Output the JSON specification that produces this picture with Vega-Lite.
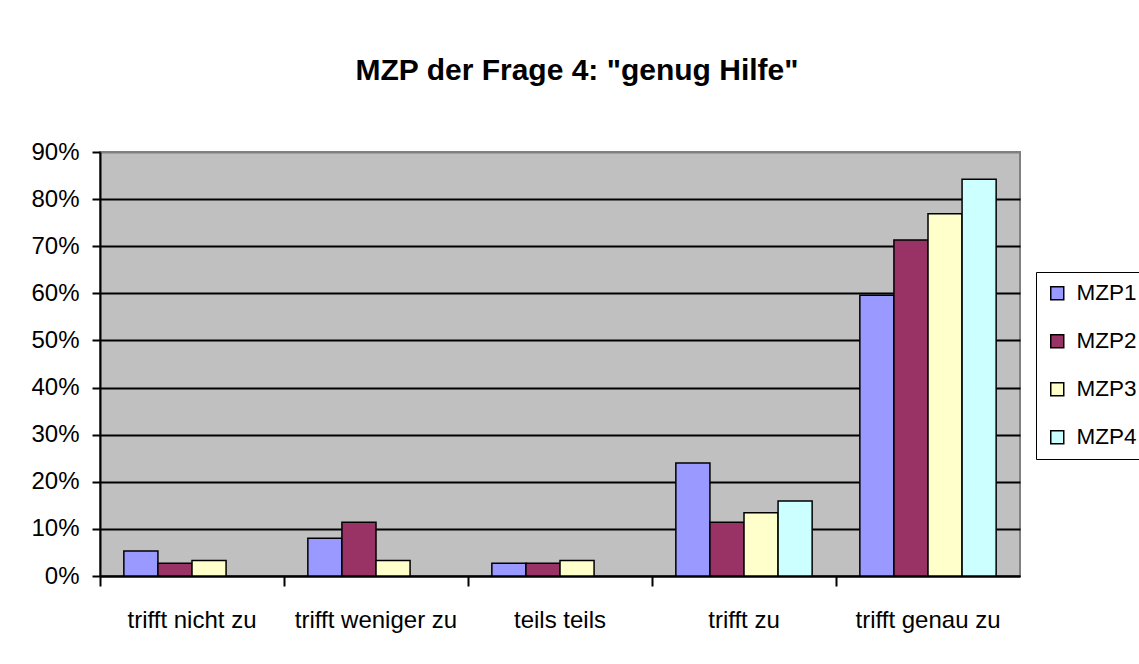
{
  "$schema": "https://vega.github.io/schema/vega-lite/v6.json",
  "autosize": "none",
  "width": 920,
  "height": 424,
  "padding": {"left": 100, "top": 152, "right": 119, "bottom": 88},
  "background": "white",
  "title": {
    "text": "MZP der Frage 4: \"genug Hilfe\"",
    "font": "Liberation Sans",
    "fontSize": 30,
    "fontWeight": "bold",
    "color": "black",
    "anchor": "middle",
    "dx": 17,
    "offset": 54
  },
  "data": {
    "values": [
      {"kategorie": "trifft nicht zu", "mzp": "MZP1", "wert": 0.053},
      {"kategorie": "trifft nicht zu", "mzp": "MZP2", "wert": 0.027},
      {"kategorie": "trifft nicht zu", "mzp": "MZP3", "wert": 0.033},
      {"kategorie": "trifft weniger zu", "mzp": "MZP1", "wert": 0.08},
      {"kategorie": "trifft weniger zu", "mzp": "MZP2", "wert": 0.114},
      {"kategorie": "trifft weniger zu", "mzp": "MZP3", "wert": 0.033},
      {"kategorie": "teils teils", "mzp": "MZP1", "wert": 0.027},
      {"kategorie": "teils teils", "mzp": "MZP2", "wert": 0.027},
      {"kategorie": "teils teils", "mzp": "MZP3", "wert": 0.033},
      {"kategorie": "trifft zu", "mzp": "MZP1", "wert": 0.24},
      {"kategorie": "trifft zu", "mzp": "MZP2", "wert": 0.114},
      {"kategorie": "trifft zu", "mzp": "MZP3", "wert": 0.134},
      {"kategorie": "trifft zu", "mzp": "MZP4", "wert": 0.159},
      {"kategorie": "trifft genau zu", "mzp": "MZP1", "wert": 0.596},
      {"kategorie": "trifft genau zu", "mzp": "MZP2", "wert": 0.713},
      {"kategorie": "trifft genau zu", "mzp": "MZP3", "wert": 0.769},
      {"kategorie": "trifft genau zu", "mzp": "MZP4", "wert": 0.842}
    ]
  },
  "mark": {"type": "bar", "stroke": "black", "strokeWidth": 1.5, "opacity": 1},
  "encoding": {
    "x": {
      "field": "kategorie",
      "type": "nominal",
      "sort": ["trifft nicht zu", "trifft weniger zu", "teils teils", "trifft zu", "trifft genau zu"],
      "scale": {"paddingInner": 0, "paddingOuter": 0},
      "axis": {
        "title": null,
        "labelAngle": 0,
        "bandPosition": 0,
        "labelFont": "Liberation Sans",
        "labelFontSize": 24,
        "labelColor": "black",
        "labelPadding": 22,
        "tickSize": 10,
        "tickColor": "black",
        "tickWidth": 2,
        "domainColor": "black",
        "domainWidth": 2,
        "grid": false
      }
    },
    "xOffset": {
      "field": "mzp",
      "type": "nominal",
      "scale": {"domain": ["MZP1", "MZP2", "MZP3", "MZP4"], "paddingInner": 0, "paddingOuter": 0.7}
    },
    "y": {
      "field": "wert",
      "type": "quantitative",
      "scale": {"domain": [0, 0.9], "nice": false},
      "axis": {
        "title": null,
        "format": ".0%",
        "values": [0, 0.1, 0.2, 0.3, 0.4, 0.5, 0.6, 0.7, 0.8, 0.9],
        "labelFont": "Liberation Sans",
        "labelFontSize": 24,
        "labelColor": "black",
        "labelPadding": 13,
        "tickSize": 8,
        "tickColor": "black",
        "tickWidth": 2,
        "domainColor": "black",
        "domainWidth": 2,
        "grid": true,
        "gridColor": {"condition": {"test": "datum.value >= 0.9", "value": "#808080"}, "value": "black"},
        "gridWidth": 2,
        "gridOpacity": 1
      }
    },
    "color": {
      "field": "mzp",
      "type": "nominal",
      "scale": {"domain": ["MZP1", "MZP2", "MZP3", "MZP4"], "range": ["#9999FF", "#993366", "#FFFFCC", "#CCFFFF"]},
      "legend": {
        "title": null,
        "orient": "none",
        "legendX": 936,
        "legendY": 120,
        "direction": "vertical",
        "fillColor": "white",
        "strokeColor": "black",
        "padding": 10,
        "rowPadding": 25,
        "symbolType": "square",
        "symbolSize": 169,
        "symbolStrokeColor": "black",
        "symbolStrokeWidth": 1.5,
        "symbolOpacity": 1,
        "labelFont": "Liberation Sans",
        "labelFontSize": 22.5,
        "labelColor": "black",
        "labelOffset": 8,
        "labelLimit": 0
      }
    }
  },
  "config": {
    "view": {"fill": "#C0C0C0", "stroke": "#808080", "strokeWidth": 2}
  }
}
